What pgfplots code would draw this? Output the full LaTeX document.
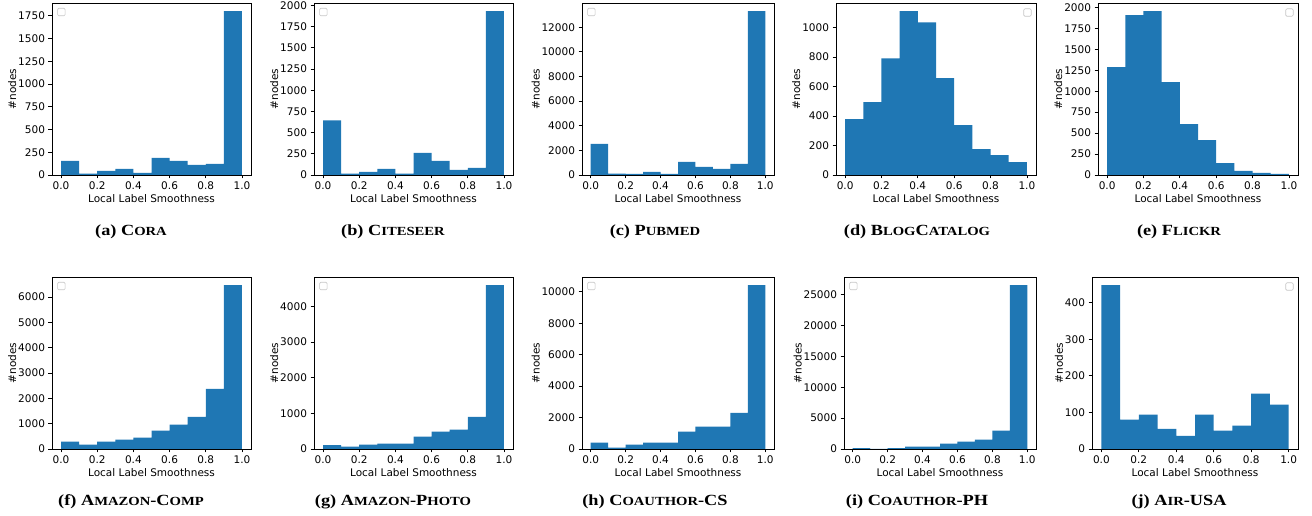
\documentclass[border=0pt]{standalone}
\usepackage{fontspec}
\setmainfont{DejaVu Sans}
\newfontfamily\capfont{Liberation Serif}
\usepackage{graphicx}
\usepackage{pgfplots}
\pgfplotsset{compat=1.18}
\definecolor{tabblue}{HTML}{1F77B4}
\newcommand{\subcap}[2]{{\capfont\bfseries\fontsize{15.5}{17}\selectfont\scalebox{1.18}[1]{(#1) #2}}}
\newcommand{\sm}[1]{{\fontsize{12.4}{14}\selectfont #1}}
\pgfplotsset{
  hist/.style={
    scale only axis, anchor=south west, height=172pt,
    xmin=-0.05, xmax=1.05, ymin=0,
    xtick={0,0.2,0.4,0.6,0.8,1.0},
    xticklabels={0.0,0.2,0.4,0.6,0.8,1.0},
    tick align=outside, tick pos=left,
    major tick length=3.5pt,
    every tick/.style={black, line width=0.8pt},
    axis line style={line width=0.8pt, black},
    axis on top,
    tick label style={font=\fontsize{10.5}{12}\selectfont},
    label style={font=\fontsize{10.5}{12}\selectfont},
    xlabel={Local Label Smoothness}, ylabel={\#nodes},
    ylabel shift=-5pt, xlabel shift=-2.5pt,
    scaled y ticks=false,
    /pgf/number format/.cd, fixed, 1000 sep={}, assume math mode=true,
  },
}
\newcommand{\legL}{\node[draw=black!22, fill=white, rounded corners=1.2pt, minimum size=7.5pt, inner sep=0pt, line width=0.6pt, anchor=north west, xshift=5.3pt, yshift=-5pt] at (rel axis cs:0,1) {};}
\newcommand{\legR}{\node[draw=black!22, fill=white, rounded corners=1.2pt, minimum size=7.5pt, inner sep=0pt, line width=0.6pt, anchor=north east, xshift=-4.5pt, yshift=-5.5pt] at (rel axis cs:1,1) {};}
\begin{document}
\begin{tikzpicture}
\useasboundingbox (0,0) rectangle (1312pt,516pt);
% (a) Cora
\begin{axis}[hist, at={(52pt,341pt)}, width=199pt, ymax=1890, ytick={0,250,...,1750}]
\addplot[ybar interval, fill=tabblue, draw=none] coordinates {(0,154)(0.1,15)(0.2,44)(0.3,66)(0.4,22)(0.5,187)(0.6,154)(0.7,110)(0.8,121)(0.9,1800)(1.0,1800)};
\legL
\end{axis}
% (b) Citeseer
\begin{axis}[hist, at={(314pt,341pt)}, width=199pt, ymax=2029, ytick={0,250,...,2000}]
\addplot[ybar interval, fill=tabblue, draw=none] coordinates {(0,644)(0.1,16)(0.2,36)(0.3,72)(0.4,16)(0.5,262)(0.6,167)(0.7,60)(0.8,83)(0.9,1932)(1.0,1932)};
\legL
\end{axis}
% (c) Pubmed
\begin{axis}[hist, at={(582pt,341pt)}, width=192pt, ymax=13965, ytick={0,2000,...,12000}]
\addplot[ybar interval, fill=tabblue, draw=none] coordinates {(0,2520)(0.1,108)(0.2,100)(0.3,244)(0.4,100)(0.5,1057)(0.6,650)(0.7,488)(0.8,894)(0.9,13300)(1.0,13300)};
\legL
\end{axis}
% (d) BlogCatalog
\begin{axis}[hist, at={(836pt,341pt)}, width=200pt, ymax=1167, ytick={0,200,...,1000}]
\addplot[ybar interval, fill=tabblue, draw=none] coordinates {(0,379)(0.1,494)(0.2,792)(0.3,1111)(0.4,1036)(0.5,657)(0.6,339)(0.7,176)(0.8,135)(0.9,88)(1.0,88)};
\legR
\end{axis}
% (e) Flickr
\begin{axis}[hist, at={(1098pt,341pt)}, width=200pt, ymax=2053, ytick={0,250,...,2000}]
\addplot[ybar interval, fill=tabblue, draw=none] coordinates {(0,1288)(0.1,1908)(0.2,1955)(0.3,1109)(0.4,608)(0.5,417)(0.6,143)(0.7,48)(0.8,24)(0.9,12)(1.0,12)};
\legR
\end{axis}
% (f) Amazon-Comp
\begin{axis}[hist, at={(52pt,67pt)}, width=199pt, ymax=6794, ytick={0,1000,...,6000}]
\addplot[ybar interval, fill=tabblue, draw=none] coordinates {(0,289)(0.1,171)(0.2,289)(0.3,367)(0.4,446)(0.5,722)(0.6,958)(0.7,1273)(0.8,2375)(0.9,6470)(1.0,6470)};
\legL
\end{axis}
% (g) Amazon-Photo
\begin{axis}[hist, at={(314pt,67pt)}, width=199pt, ymax=4827, ytick={0,1000,...,4000}]
\addplot[ybar interval, fill=tabblue, draw=none] coordinates {(0,112)(0.1,65)(0.2,121)(0.3,149)(0.4,149)(0.5,345)(0.6,485)(0.7,541)(0.8,904)(0.9,4597)(1.0,4597)};
\legL
\end{axis}
% (h) Coauthor-CS
\begin{axis}[hist, at={(582pt,67pt)}, width=192pt, ymax=10944, ytick={0,2000,...,10000}]
\addplot[ybar interval, fill=tabblue, draw=none] coordinates {(0,402)(0.1,85)(0.2,275)(0.3,402)(0.4,402)(0.5,1099)(0.6,1416)(0.7,1416)(0.8,2304)(0.9,10423)(1.0,10423)};
\legL
\end{axis}
% (i) Coauthor-PH
\begin{axis}[hist, at={(844pt,67pt)}, width=192pt, ymax=27890, ytick={0,5000,...,25000}]
\addplot[ybar interval, fill=tabblue, draw=none] coordinates {(0,160)(0.1,20)(0.2,160)(0.3,377)(0.4,377)(0.5,862)(0.6,1185)(0.7,1509)(0.8,2963)(0.9,26562)(1.0,26562)};
\legL
\end{axis}
% (j) Air-USA
\begin{axis}[hist, at={(1092pt,67pt)}, width=206pt, ymax=470, ytick={0,100,...,400}]
\addplot[ybar interval, fill=tabblue, draw=none] coordinates {(0,448)(0.1,80)(0.2,94)(0.3,55)(0.4,36)(0.5,94)(0.6,50)(0.7,64)(0.8,151)(0.9,121)(1.0,121)};
\legR
\end{axis}
% captions
\node[anchor=base] at (131pt,280pt) {\subcap{a}{C\sm{ORA}}};
\node[anchor=base] at (393pt,280pt) {\subcap{b}{C\sm{ITESEER}}};
\node[anchor=base] at (655pt,280pt) {\subcap{c}{P\sm{UBMED}}};
\node[anchor=base] at (917pt,280pt) {\subcap{d}{B\sm{LOG}C\sm{ATALOG}}};
\node[anchor=base] at (1179pt,280pt) {\subcap{e}{F\sm{LICKR}}};
\node[anchor=base] at (131pt,10pt) {\subcap{f}{A\sm{MAZON}-C\sm{OMP}}};
\node[anchor=base] at (393pt,10pt) {\subcap{g}{A\sm{MAZON}-P\sm{HOTO}}};
\node[anchor=base] at (655pt,10pt) {\subcap{h}{C\sm{OAUTHOR}-CS}};
\node[anchor=base] at (917pt,10pt) {\subcap{i}{C\sm{OAUTHOR}-PH}};
\node[anchor=base] at (1179pt,10pt) {\subcap{j}{A\sm{IR}-USA}};
\end{tikzpicture}
\end{document}
